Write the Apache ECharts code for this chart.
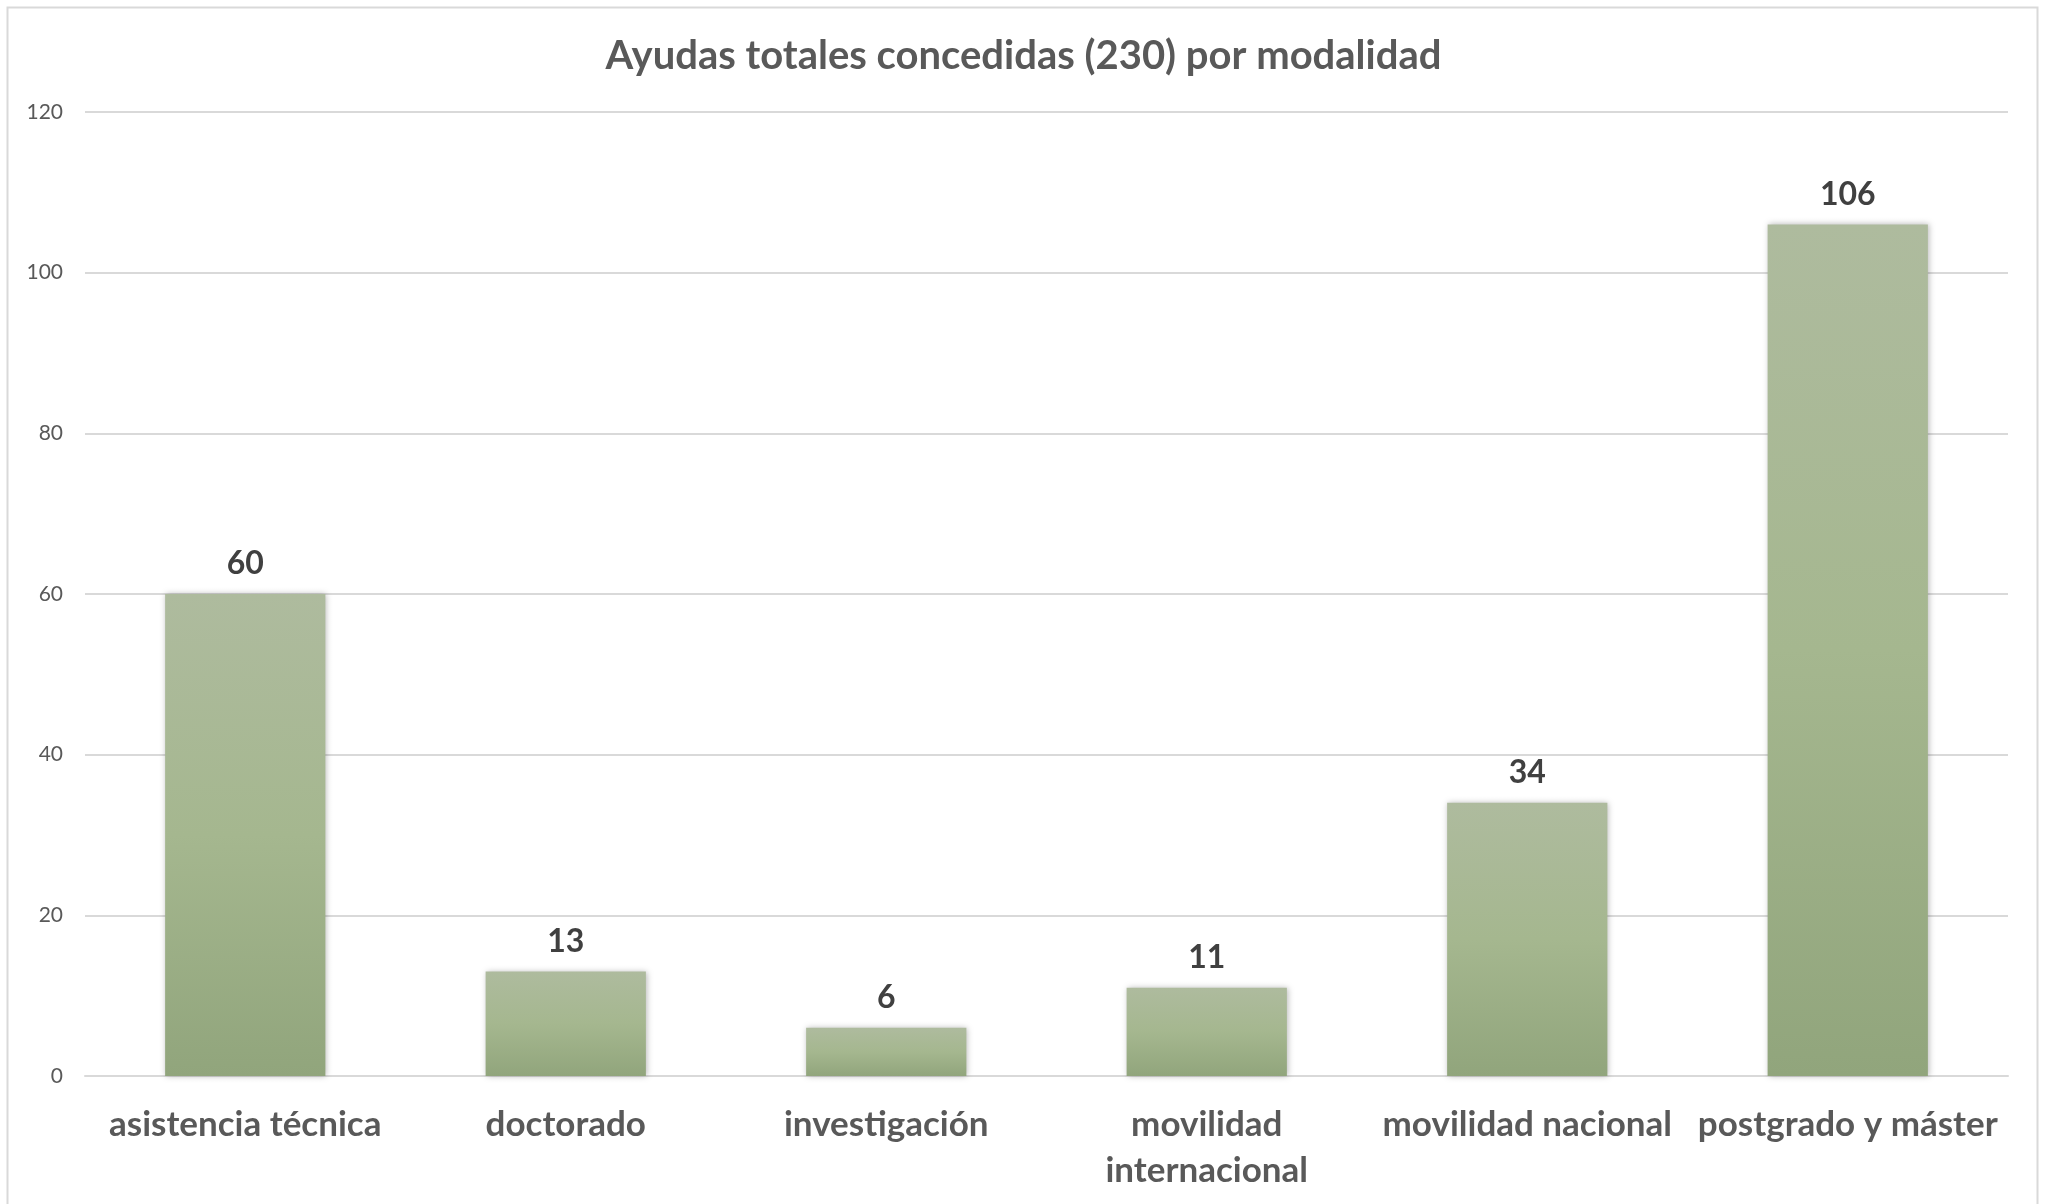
<!DOCTYPE html>
<html>
<head>
<meta charset="utf-8">
<script src="https://cdn.jsdelivr.net/npm/echarts@6/dist/echarts.min.js"></script>
<style>
html,body{margin:0;padding:0;background:#fff;}
#chart{width:2047px;height:1204px;}
</style>
</head>
<body>
<div id="chart"></div>
<script>
const titleText = 'Ayudas totales concedidas (230) por modalidad';
const categories = ['asistencia técnica', 'doctorado', 'investigación', 'movilidad\ninternacional', 'movilidad nacional', 'postgrado y máster'];
const values = [60, 13, 6, 11, 34, 106];
const yMin = 0, yMax = 120, yInterval = 20;

const chart = echarts.init(document.getElementById('chart'));
chart.setOption({
  backgroundColor: '#ffffff',
  animation: false,
  graphic: [{
    type: 'rect',
    shape: { x: 7.5, y: 7.5, width: 2030, height: 1210 },
    style: { fill: 'none', stroke: '#d9d9d9', lineWidth: 2 },
    silent: true
  }],
  title: {
    text: titleText,
    left: 'center',
    top: 31,
    textStyle: { fontFamily: 'Lato', fontWeight: 'bold', fontSize: 40, color: '#595959' }
  },
  grid: { left: 85, right: 39, top: 112, bottom: 128, containLabel: false },
  xAxis: {
    type: 'category',
    data: categories,
    axisLine: { show: true, lineStyle: { color: '#d9d9d9', width: 2 } },
    axisTick: { show: false },
    axisLabel: {
      interval: 0,
      margin: 26,
      fontFamily: 'Lato', fontWeight: 'bold', fontSize: 35, color: '#595959',
      lineHeight: 46
    }
  },
  yAxis: {
    type: 'value',
    min: yMin, max: yMax, interval: yInterval,
    axisLine: { show: false },
    axisTick: { show: false },
    splitLine: { lineStyle: { color: '#d9d9d9', width: 2 } },
    axisLabel: { margin: 22, fontFamily: 'Lato', fontSize: 21, color: '#595959' }
  },
  series: [{
    type: 'bar',
    data: values,
    barWidth: '50%',
    itemStyle: {
      color: new echarts.graphic.LinearGradient(0, 0, 0, 1, [
        { offset: 0, color: '#aebb9e' },
        { offset: 0.5, color: '#a5b78f' },
        { offset: 1, color: '#91a57c' }
      ]),
      shadowBlur: 6,
      shadowColor: 'rgba(0,0,0,0.28)',
      shadowOffsetX: 1,
      shadowOffsetY: 0
    },
    label: {
      show: true,
      position: 'top',
      distance: 14,
      fontFamily: 'Lato', fontWeight: 'bold', fontSize: 32, color: '#404040'
    }
  }]
});
</script>
</body>
</html>
